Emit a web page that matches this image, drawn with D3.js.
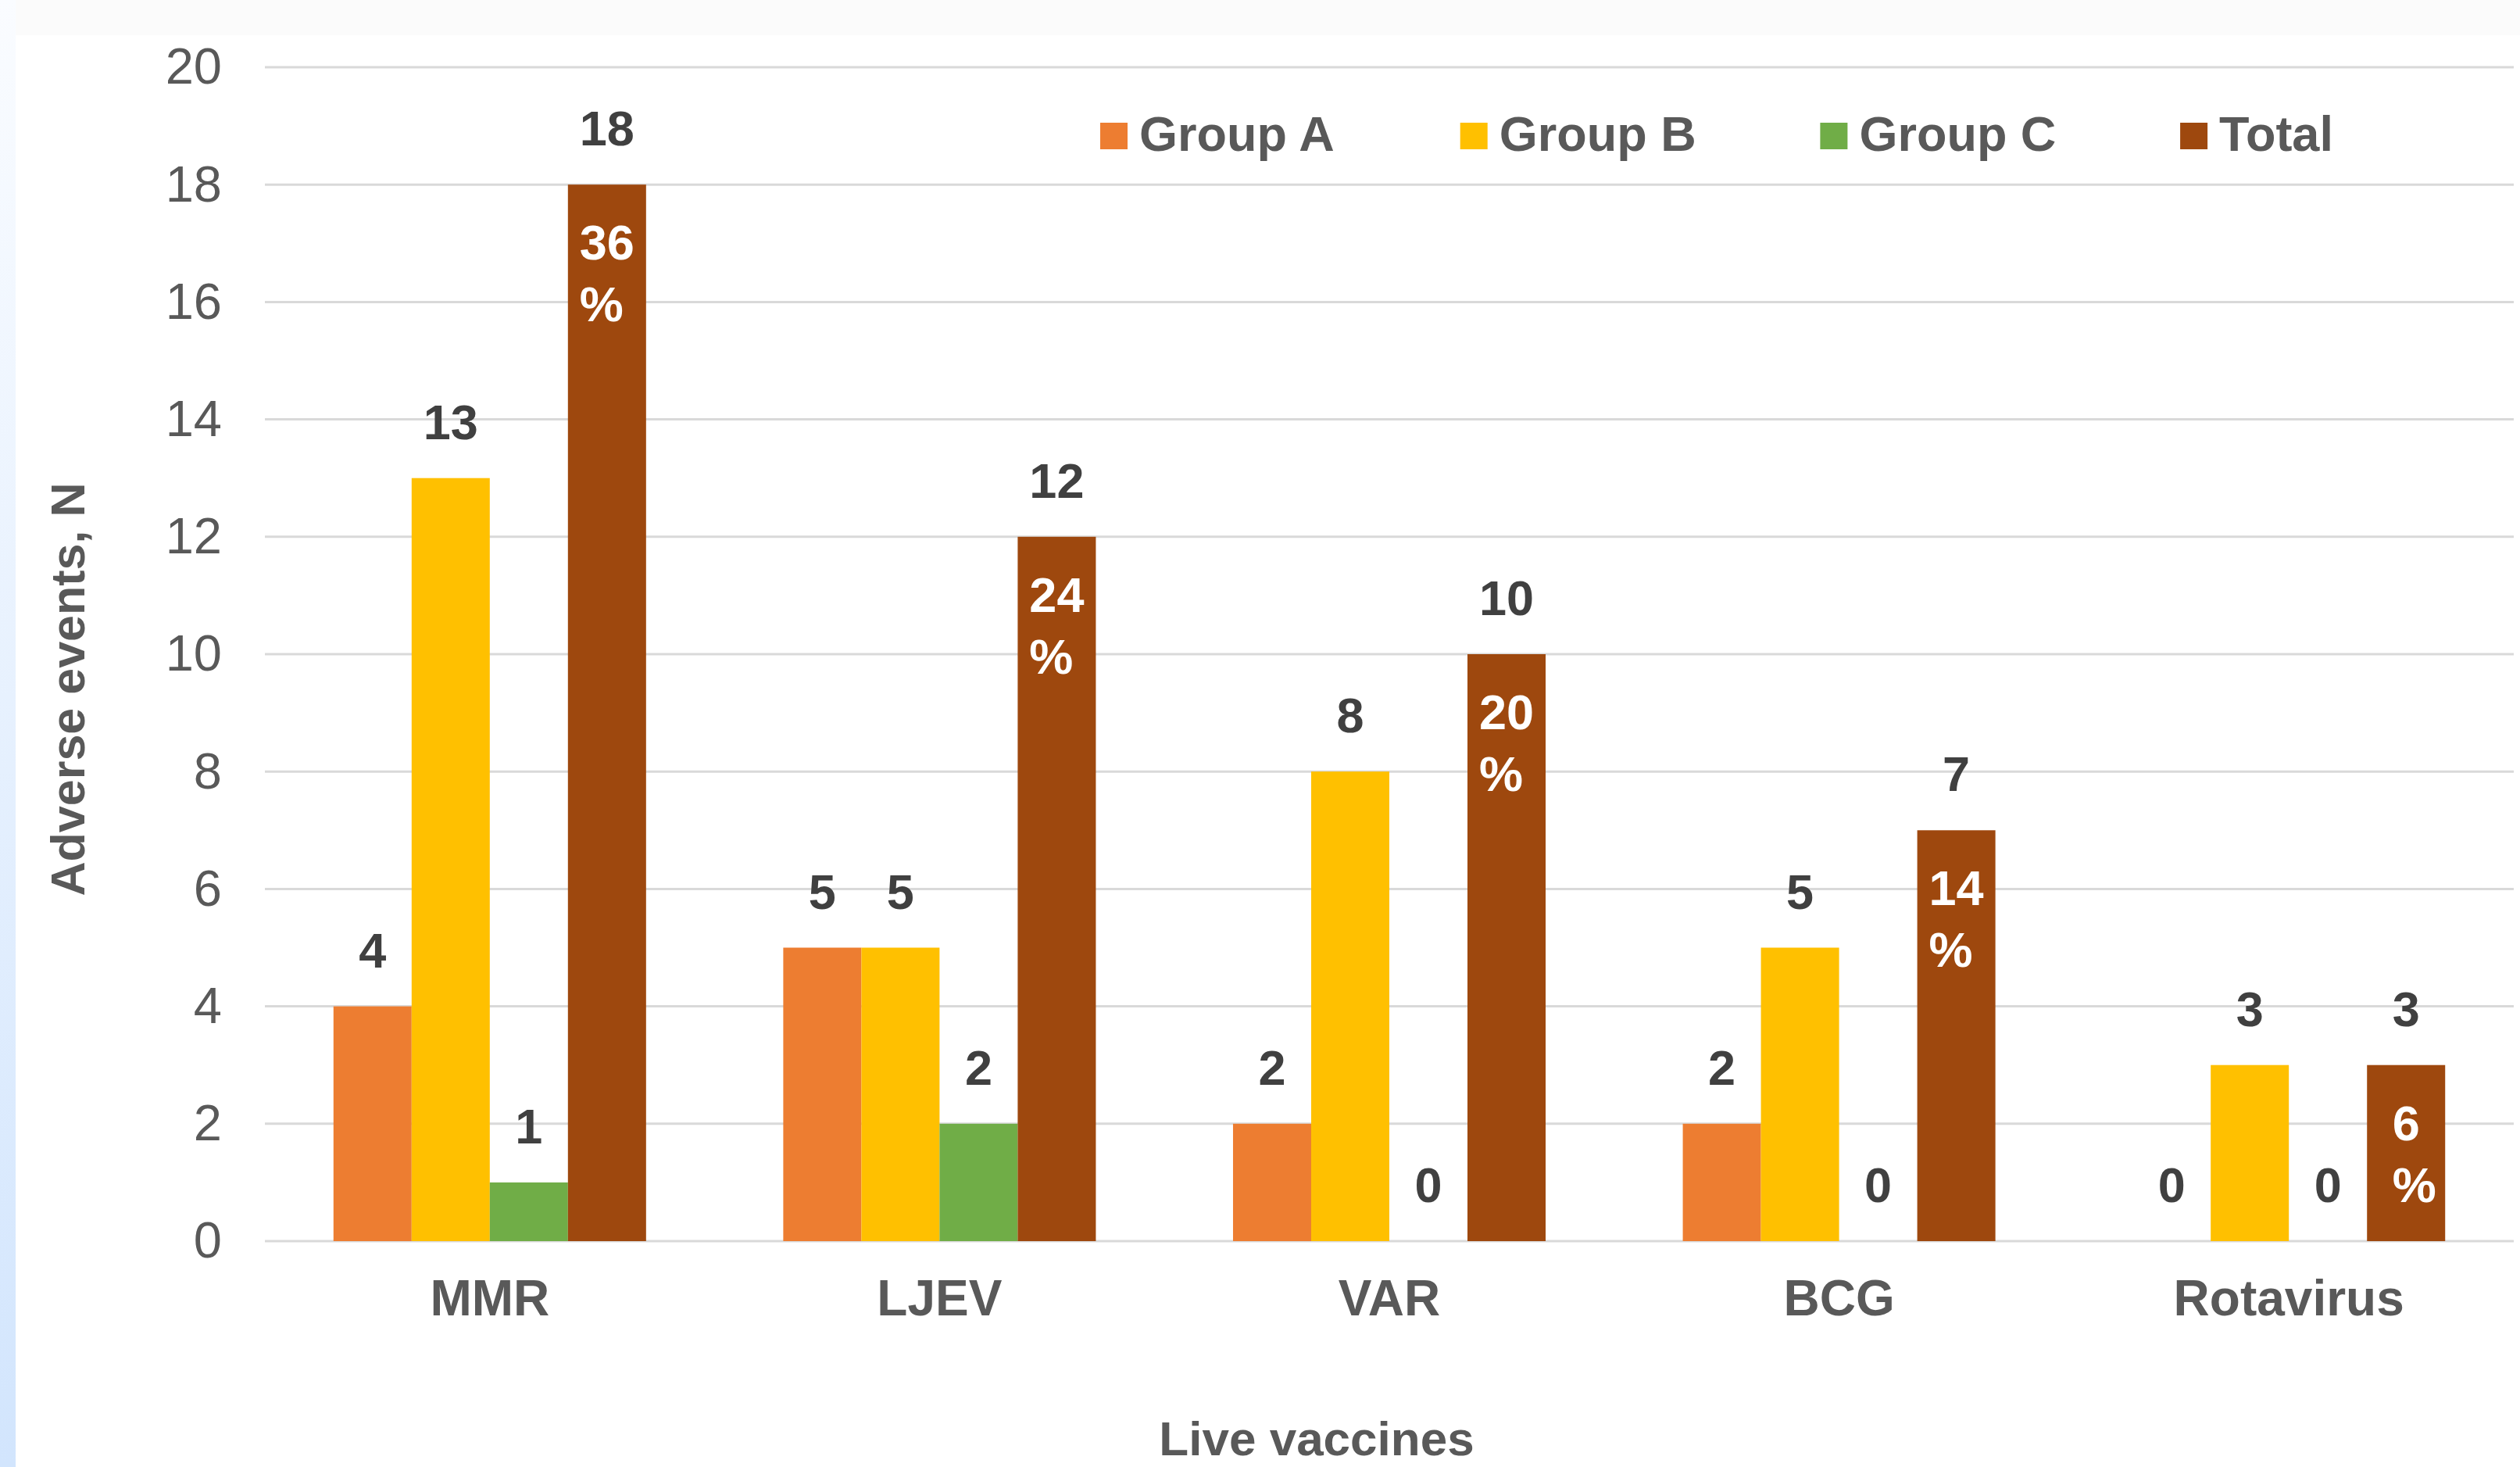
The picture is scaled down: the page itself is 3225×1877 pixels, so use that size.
<!DOCTYPE html>
<html lang="en">
<head>
  <meta charset="UTF-8">
  <title>Adverse events by live vaccine</title>
  <script src="https://d3js.org/d3.v7.min.js"></script>
  <style>
    html, body {
      margin: 0;
      padding: 0;
      background-color: #ffffff;
      font-family: 'Liberation Sans', Arial, sans-serif;
    }
    svg { display: block; }
    .tick text { fill: #595959; }
  </style>
</head>
<body>
<svg id="chart"></svg>
<script>
  // values
  const vaccines = ["MMR", "LJEV", "VAR", "BCG", "Rotavirus"];
  const seriesNames = ["Group A", "Group B", "Group C", "Total"];
  const groupA = [4, 5, 2, 2, 0];
  const groupB = [13, 5, 8, 5, 3];
  const groupC = [1, 2, 0, 0, 0];
  const total = [18, 12, 10, 7, 3];
  const totalPct = ["36", "24", "20", "14", "6"];
  const yTicks = [0, 2, 4, 6, 8, 10, 12, 14, 16, 18, 20];

  const colors = {
    "Group A": "#ED7D31",
    "Group B": "#FFC000",
    "Group C": "#70AD47",
    "Total": "#9E480E"
  };

  const width = 3225, height = 1877;
  const margin = { top: 86, right: 8, bottom: 289, left: 339 };

  const svg = d3.select("#chart").attr("width", width).attr("height", height);

  // faint page frame like the screenshot
  const defs = svg.append("defs");
  const grad = defs.append("linearGradient").attr("id", "edge")
    .attr("x1", 0).attr("y1", 0).attr("x2", 0).attr("y2", 1);
  grad.append("stop").attr("offset", "0%").attr("stop-color", "#fafcff");
  grad.append("stop").attr("offset", "100%").attr("stop-color", "#d2e5fd");
  svg.append("rect").attr("width", width).attr("height", 45).attr("fill", "#fbfbfb");
  svg.append("rect").attr("width", 20).attr("height", height).attr("fill", "url(#edge)");

  const rows = vaccines.map((v, i) => ({
    vaccine: v,
    values: [groupA[i], groupB[i], groupC[i], total[i]],
    pct: totalPct[i]
  }));

  const x0 = d3.scaleBand()
    .domain(vaccines)
    .range([margin.left, width - margin.right])
    .paddingInner(0.305)
    .paddingOuter(0.1525);

  const x1 = d3.scaleBand()
    .domain(seriesNames)
    .range([0, x0.bandwidth()]);

  const y = d3.scaleLinear()
    .domain([0, 20])
    .range([height - margin.bottom, margin.top]);

  // gridlines
  svg.append("g").selectAll("line").data(yTicks).join("line")
    .attr("x1", margin.left).attr("x2", width - margin.right)
    .attr("y1", d => y(d)).attr("y2", d => y(d))
    .attr("stroke", "#d9d9d9").attr("stroke-width", 3);

  // y axis labels
  const yAxis = svg.append("g")
    .attr("transform", `translate(${margin.left},0)`)
    .call(d3.axisLeft(y).tickValues(yTicks).tickSize(0).tickPadding(55));
  yAxis.select(".domain").remove();
  yAxis.selectAll("text")
    .attr("font-size", 65).attr("font-family", "'Liberation Sans', Arial, sans-serif");

  // x axis labels
  const xAxis = svg.append("g")
    .attr("transform", `translate(0,${y(0)})`)
    .call(d3.axisBottom(x0).tickSize(0).tickPadding(50));
  xAxis.select(".domain").remove();
  xAxis.selectAll("text")
    .attr("font-size", 64).attr("font-weight", "bold")
    .attr("font-family", "'Liberation Sans', Arial, sans-serif");

  // bars
  const groups = svg.append("g").selectAll("g").data(rows).join("g")
    .attr("transform", d => `translate(${x0(d.vaccine)},0)`);

  groups.selectAll("rect")
    .data(d => d.values.map((v, j) => ({ key: seriesNames[j], value: v })))
    .join("rect")
    .attr("x", d => x1(d.key))
    .attr("width", x1.bandwidth())
    .attr("y", d => y(d.value))
    .attr("height", d => y(0) - y(d.value))
    .attr("fill", d => colors[d.key]);

  // value labels above bars
  groups.selectAll("text.val")
    .data(d => d.values.map((v, j) => ({ key: seriesNames[j], value: v })))
    .join("text")
    .attr("class", "val")
    .attr("x", d => x1(d.key) + x1.bandwidth() / 2)
    .attr("y", d => y(d.value) - 50)
    .attr("text-anchor", "middle")
    .attr("font-size", 63).attr("font-weight", "bold")
    .attr("fill", "#404040")
    .text(d => d.value);

  // percentage inside the Total bar, wrapped on two lines
  groups.each(function (d) {
    const g = d3.select(this);
    const cx = x1("Total") + x1.bandwidth() / 2;
    const top = y(d.values[3]);
    const t = g.append("text")
      .attr("font-size", 63).attr("font-weight", "bold")
      .attr("fill", "#ffffff");
    const first = t.append("tspan").attr("y", top + 96).text(d.pct);
    const w = first.node().getComputedTextLength();
    first.attr("x", cx - w / 2);
    t.append("tspan").attr("x", cx - w / 2).attr("y", top + 175).text("%");
  });

  // legend
  const legend = svg.append("g").selectAll("g").data(seriesNames).join("g")
    .attr("transform", (d, i) => `translate(${1408 + i * 460.7},157)`);
  legend.append("rect").attr("width", 35).attr("height", 34)
    .attr("fill", d => colors[d]);
  legend.append("text").attr("x", 50).attr("y", 36)
    .attr("font-size", 63).attr("font-weight", "bold")
    .attr("fill", "#595959")
    .text(d => d);

  // axis titles
  svg.append("text")
    .attr("x", 1685).attr("y", 1862)
    .attr("text-anchor", "middle")
    .attr("font-size", 62).attr("font-weight", "bold")
    .attr("fill", "#595959")
    .text("Live vaccines");

  svg.append("text")
    .attr("transform", "translate(108,882) rotate(-90)")
    .attr("text-anchor", "middle")
    .attr("font-size", 61).attr("font-weight", "bold")
    .attr("fill", "#595959")
    .text("Adverse events, N");
</script>
</body>
</html>
